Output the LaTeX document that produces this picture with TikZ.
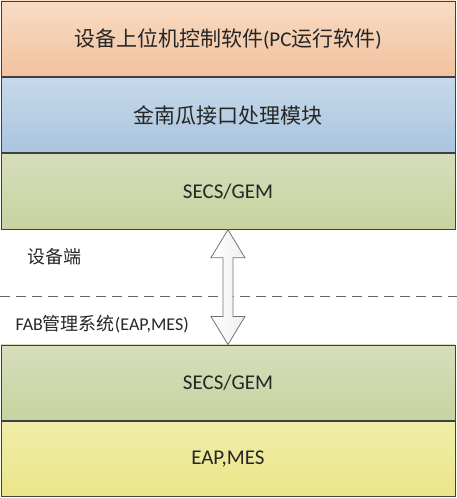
\documentclass[tikz,border=0pt]{standalone}
\usepackage{fontspec}
\setmainfont{Carlito}
\newfontfamily\cjk{Noto Sans CJK SC}
\usetikzlibrary{positioning,calc}
\definecolor{orangetop}{HTML}{F8DBC4}
\definecolor{orangebot}{HTML}{F1C29D}
\definecolor{bluetop}{HTML}{C7D9EA}
\definecolor{bluebot}{HTML}{A9C4DE}
\definecolor{greentop}{HTML}{D6DEBB}
\definecolor{greenbot}{HTML}{C7D3A0}
\definecolor{yellowtop}{HTML}{F0EEA8}
\definecolor{yellowbot}{HTML}{EAE589}
\definecolor{edgegray}{HTML}{404040}
\tikzset{
  layer/.style={draw=edgegray,line width=0.9pt,minimum width=454pt,minimum height=75.5pt,
    inner sep=0pt,font=\fontsize{21}{25}\selectfont,text=black!85},
  side/.style={anchor=west,font=\fontsize{18}{22}\selectfont,text=black!85},
  bigarrow/.style={draw=black!55,line width=0.8pt,top color=white,bottom color=gray!12,shading angle=90}
}
\begin{document}
\begin{tikzpicture}[x=1pt,y=-1pt]
  \useasboundingbox (0,0) rectangle (457,498);
  % equipment side
  \node[layer,anchor=north west,top color=orangetop,bottom color=orangebot] (pc) at (0.5,0.5)
    {{\cjk 设备上位机控制软件}(PC{\cjk 运行软件})};
  \node[layer,below=0pt of pc,top color=bluetop,bottom color=bluebot] (jng) {\cjk 金南瓜接口处理模块};
  \node[layer,below=0pt of jng,top color=greentop,bottom color=greenbot] (secs1) {SECS/GEM};
  % fab side
  \node[layer,anchor=north west,top color=greentop,bottom color=greenbot] (secs2) at (0.5,344.5) {SECS/GEM};
  \node[layer,below=0pt of secs2,top color=yellowtop,bottom color=yellowbot] (eap) {EAP,MES};

  \draw[black!60,line width=0.9pt,dash pattern=on 10pt off 6pt] (0,296) -- (457,296);
  \node[side] (eq) at (24,257) {\cjk 设备端};
  \node[side] (fab) at (12,324) {FAB{\cjk 管理系统}(EAP,MES)};

  \draw[bigarrow] (secs1.south) -- ++(17,28) -- ++(-12,0) -- ($(secs2.north)+(5,-28)$) -- ++(12,0)
    -- (secs2.north) -- ++(-17,-28) -- ++(12,0) -- ($(secs1.south)+(-5,28)$) -- ++(-12,0) -- cycle;
\end{tikzpicture}
\end{document}
